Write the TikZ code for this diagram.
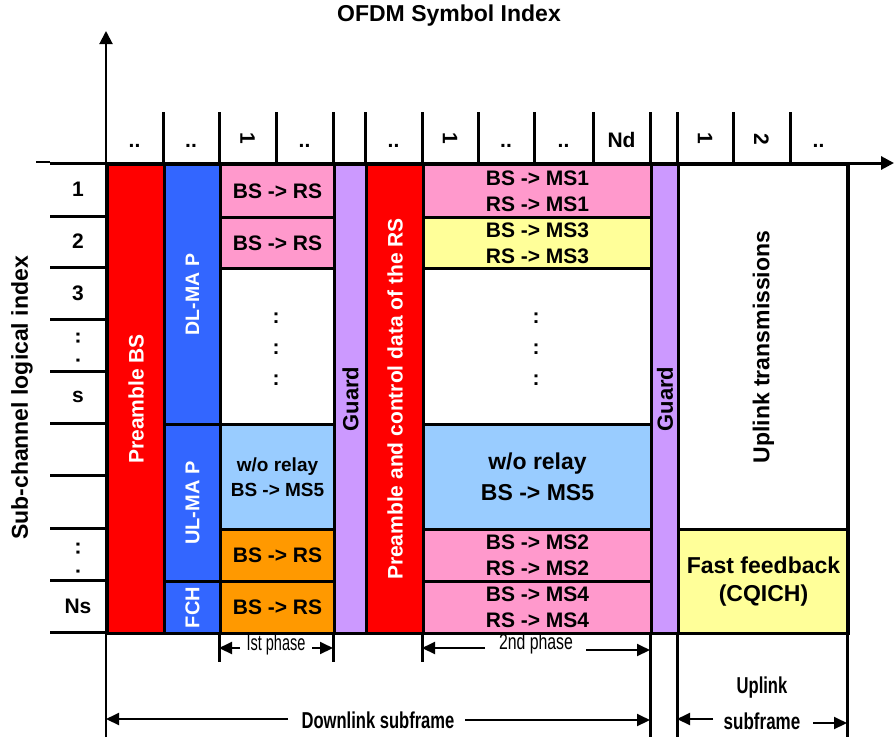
\documentclass[tikz,border=0pt]{standalone}
\usepackage{graphicx}
\usepackage{fontspec}
\setmainfont{Liberation Sans}
\usetikzlibrary{arrows.meta}
\definecolor{cred}{HTML}{FF0000}
\definecolor{cblue}{HTML}{3366FF}
\definecolor{cpink}{HTML}{FF99CC}
\definecolor{clblue}{HTML}{99CCFF}
\definecolor{corange}{HTML}{FF9900}
\definecolor{cyellow}{HTML}{FFFF99}
\definecolor{cpurple}{HTML}{CC99FF}
\newcommand{\fsz}[2]{\fontsize{#1}{#2}\selectfont}
\begin{document}
\begin{tikzpicture}[x=1pt,y=-1pt,
  box/.style={draw=black,line width=3pt,inner sep=0pt,anchor=north west,align=center,font=\bfseries\fsz{21}{26}},
  txt/.style={inner sep=0pt,align=center,font=\bfseries\fsz{21}{26}},
  big/.style={inner sep=0pt,align=center,font=\bfseries\fsz{23}{28}},
  cond/.style={inner sep=0pt,font=\fsz{22}{26}},
  condb/.style={inner sep=0pt,font=\bfseries\fsz{23}{28}},
  gridline/.style={line width=3pt},
  arr/.style={line width=2pt,-{Triangle[length=13pt,width=12pt]}},
]
\useasboundingbox (0,0) rectangle (894,740);

% ---- boxes ----
\node[box,fill=cred,minimum width=57pt,minimum height=469pt,text=white] (pbs) at (106,163) {\rotatebox{90}{Preamble BS}};
\node[box,fill=cblue,minimum width=56pt,minimum height=260pt,text=white,font=\bfseries\fsz{19.5}{24}] (dlmap) at (163,163) {\rotatebox{90}{DL-MA P}};
\node[box,fill=cblue,minimum width=56pt,minimum height=157pt,text=white,font=\bfseries\fsz{20}{24}] (ulmap) at (163,423) {\rotatebox{90}{UL-MA P}};
\node[box,fill=cblue,minimum width=56pt,minimum height=52pt,text=white,font=\bfseries\fsz{20}{24}] (fch) at (163,580) {\rotatebox{90}{FCH}};

\node[box,fill=cpink,minimum width=114pt,minimum height=53pt] (ra1) at (219,163) {BS -> RS};
\node[box,fill=cpink,minimum width=114pt,minimum height=51pt] (ra2) at (219,216) {BS -> RS};
\node[box,fill=white,minimum width=114pt,minimum height=156pt] (wa) at (219,267) {};
\node[box,fill=clblue,minimum width=114pt,minimum height=105pt,font=\bfseries\fsz{19}{25}] (la) at (219,423) {w/o relay\\BS -> MS5};
\node[box,fill=corange,minimum width=114pt,minimum height=52pt] (oa1) at (219,528) {BS -> RS};
\node[box,fill=corange,minimum width=114pt,minimum height=52pt] (oa2) at (219,580) {BS -> RS};

\node[box,fill=cpurple,minimum width=32pt,minimum height=469pt,font=\bfseries\fsz{22}{26}] (g1) at (333,163) {\rotatebox{90}{Guard}};
\node[box,fill=cred,minimum width=57pt,minimum height=469pt,text=white] (prs) at (365,163) {\rotatebox{90}{Preamble and control data of the RS}};

\node[box,fill=cpink,minimum width=228pt,minimum height=53pt] (m1) at (422,163) {BS -> MS1\\RS -> MS1};
\node[box,fill=cyellow,minimum width=228pt,minimum height=51pt] (m3) at (422,216) {BS -> MS3\\RS -> MS3};
\node[box,fill=white,minimum width=228pt,minimum height=156pt] (wb) at (422,267) {};
\node[box,fill=clblue,minimum width=228pt,minimum height=105pt,font=\bfseries\fsz{23}{31}] (lb) at (422,423) {w/o relay\\BS -> MS5};
\node[box,fill=cpink,minimum width=228pt,minimum height=52pt] (m2) at (422,528) {BS -> MS2\\RS -> MS2};
\node[box,fill=cpink,minimum width=228pt,minimum height=52pt] (m4) at (422,580) {BS -> MS4\\RS -> MS4};

\node[box,fill=cpurple,minimum width=27pt,minimum height=469pt,font=\bfseries\fsz{22}{26}] (g2) at (650,163) {\rotatebox{90}{Guard}};
\node[box,fill=white,minimum width=170pt,minimum height=365pt,font=\bfseries\fsz{23}{28}] (ul) at (677,163) {\rotatebox{90}{Uplink transmissions}};
\node[box,fill=cyellow,minimum width=170pt,minimum height=104pt,font=\bfseries\fsz{23}{28}] (ff) at (677,528) {Fast feedback\\(CQICH)};

% dots inside white cells
\node[txt,font=\bfseries\fsz{21}{31}] (dotsa) at (276,349) {:\\:\\:};
\node[txt,font=\bfseries\fsz{21}{31}] (dotsb) at (536,349) {:\\:\\:};

% ---- row label column ----
\foreach \yy in {216,267,319,371,423,475,528,580,632}
  \draw[gridline] (50,\yy) -- (106,\yy);
\draw[line width=1.5pt] (36,162) -- (50,162);
\draw[gridline] (50,163) -- (106,163);
\node[txt] (r1) at (78,189.5) {1};
\node[txt] (r2) at (78,241.5) {2};
\node[txt] (r3) at (78,293) {3};
\node[txt] (r4) at (78,347.5) {\rotatebox{90}{.\hspace{13pt}.\hspace{2pt}.}};
\node[txt] (r5) at (78,397) {s};
\node[txt] (r8) at (78,558) {\rotatebox{90}{.\hspace{13pt}.\hspace{2pt}.}};
\node[txt] (r9) at (78,606) {Ns};

% ---- axes ----
\coordinate (xo) at (50,163);
\coordinate (xe) at (894,163);
\coordinate (yo) at (106,737);
\coordinate (ye) at (106,31);
\draw[line width=3pt,-{Triangle[length=13pt,width=13pt]}] (xo) -- (xe);
\draw[line width=2pt,-{Triangle[length=13pt,width=13pt]}] (yo) -- (ye);

% header ticks
\foreach \xx in {163,219,276,333,365,422,478,534,593,650,677,733,790}
  \draw[gridline] (\xx,112) -- (\xx,163);

% header labels
\node[txt,anchor=base] (h1) at (134.5,147) {..};
\node[txt,anchor=base] (h2) at (191,147) {..};
\node[txt] (h3) at (247.5,138) {\rotatebox{-90}{1}};
\node[txt,anchor=base] (h4) at (304.5,147) {..};
\node[txt,anchor=base] (h5) at (393.5,147) {..};
\node[txt] (h6) at (450,138) {\rotatebox{-90}{1}};
\node[txt,anchor=base] (h7) at (506,147) {..};
\node[txt,anchor=base] (h8) at (563.5,147) {..};
\node[txt,anchor=base] (h9) at (621.5,147) {Nd};
\node[txt] (h10) at (705,138) {\rotatebox{-90}{1}};
\node[txt] (h11) at (761.5,139) {\rotatebox{-90}{2}};
\node[txt,anchor=base] (h12) at (818.5,147) {..};

% titles
\node[big] (title) at (449,16) {OFDM Symbol Index};
\node[big] (ylab) at (22,398) {\rotatebox{90}{Sub-channel logical index}};

% ---- bottom lines ----
\draw[gridline] (219,632) -- (219,662);
\draw[gridline] (333,632) -- (333,662);
\draw[gridline] (422,632) -- (422,662);
\draw[gridline] (650,632) -- (650,737);
\draw[gridline] (677,632) -- (677,737);
\draw[gridline] (847,163) -- (847,737);

% phase 1
\coordinate (p1L) at (219,648);
\coordinate (p1a) at (240,648);
\coordinate (p1b) at (312,648);
\coordinate (p1R) at (333,648);
\node[cond] (ph1) at (276,645) {\scalebox{0.66}[1]{Ist phase}};
\draw[arr] (p1a) -- (p1L);
\draw[arr] (p1b) -- (p1R);

% phase 2
\coordinate (p2L) at (422,648);
\coordinate (p2a) at (485,648);
\coordinate (p2b) at (586,650);
\coordinate (p2R) at (650,650);
\node[cond] (ph2) at (536,644) {\scalebox{0.72}[1]{2nd phase}};
\draw[arr] (p2a) -- (p2L);
\draw[arr] (p2b) -- (p2R);

% downlink subframe
\coordinate (dL) at (106,719);
\coordinate (da) at (288,719);
\coordinate (db) at (465,720);
\coordinate (dR) at (650,720);
\node[condb] (dl) at (378,720) {\scalebox{0.72}[1]{Downlink subframe}};
\draw[arr] (da) -- (dL);
\draw[arr] (db) -- (dR);

% uplink subframe
\coordinate (uL) at (677,719);
\coordinate (ua) at (713,719);
\coordinate (ub) at (813,723);
\coordinate (uR) at (847,723);
\node[condb] (ulk) at (762,688) {\scalebox{0.72}[1]{Uplink}};
\node[condb] (usf) at (762,721) {\scalebox{0.74}[1]{subframe}};
\draw[arr] (ua) -- (uL);
\draw[arr] (ub) -- (uR);
\end{tikzpicture}
\end{document}
